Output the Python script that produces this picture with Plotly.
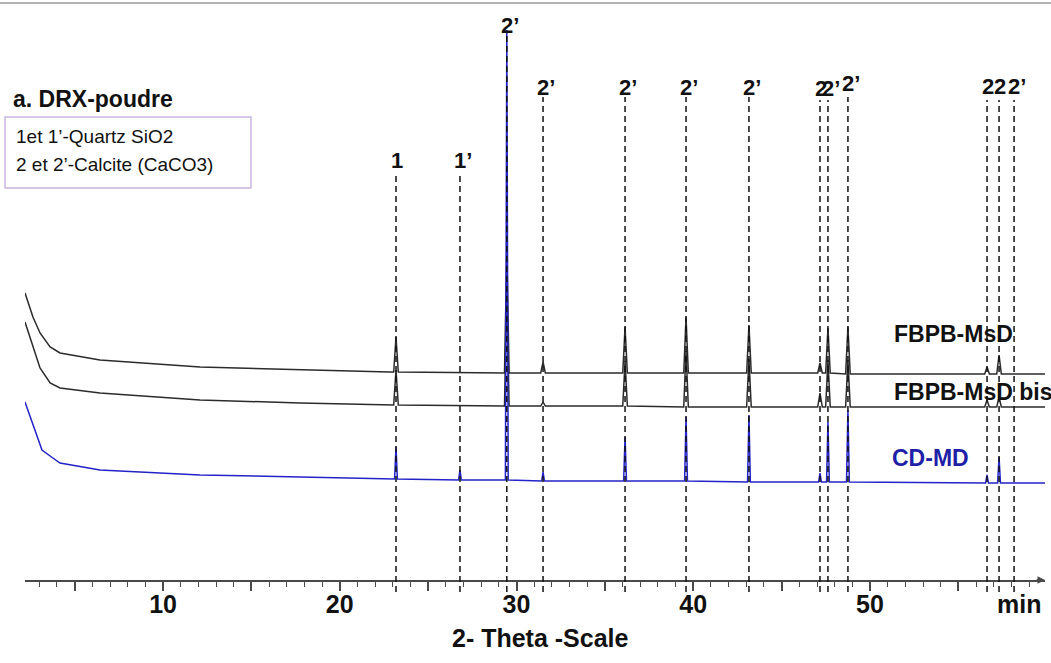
import plotly.graph_objects as go

# marked reflections (2-theta) and their labels
peak_pos = [23.18, 26.80, 29.45, 31.50, 36.14, 39.59, 43.15, 47.17, 47.62, 48.75, 56.62, 57.30, 58.15]
peak_lbl = ["1", "1’", "2’", "2’", "2’", "2’", "2’", "2", "2’", "2’", "2", "2", "2’"]

# FBPB-MsD (upper black pattern)
msd_bg_x = [2.19, 2.64, 3.04, 3.61, 4.17, 6.43, 12.09, 17.75, 22.80, 30.0, 40.0, 50.0, 59.9]
msd_bg_y = [287, 263, 247, 233, 227, 220, 213, 210, 208, 207, 207, 206, 206]
msd_base = [208, 207, 207, 207, 207, 207, 207, 207, 207, 206, 206, 206, 206]
msd_top = [243, None, 330, 218, 253, 263, 255, 217, 252, 253, 213, 225, None]

# FBPB-MsD bis (lower black pattern)
bis_bg_x = [2.19, 2.64, 3.04, 3.61, 4.17, 6.43, 12.09, 17.75, 22.80, 30.0, 40.0, 50.0, 59.9]
bis_bg_y = [258, 233, 212, 197, 192, 187, 180, 177, 175, 174, 173, 173, 173]
bis_base = [175, 174, 174, 174, 174, 173, 173, 173, 173, 173, 173, 173, 173]
bis_top = [210, None, 290, 178, 219, 229, 221, 187, 220, 220, 180, 183, None]

# CD-MD (blue pattern)
cd_bg_x = [2.19, 2.64, 3.15, 3.61, 4.17, 6.43, 12.09, 17.75, 22.80, 34.7, 46.0, 59.9]
cd_bg_y = [178, 155, 130, 124, 117, 110, 105, 103, 101, 99, 98, 97]
cd_base = [101, 100, 100, 99, 99, 99, 98, 98, 98, 98, 97, 97, 97]
cd_top = [133, 110, 550, 108, 143, 163, 165, 107, 158, 170, 105, 123, None]

x_ticks = [5, 10, 15, 20, 25, 30, 35, 40, 45, 50, 55]
x_ticktext = ["", "10", "", "20", "", "30", "", "40", "", "50", ""]

FONT = "Liberation Sans, Arial, sans-serif"
BLUE = "#2323c8"
H = 580  # plot height in px == y range


def build(bg_x, bg_y, base, top, half):
    pts = list(zip(bg_x, bg_y))
    for p, b, t in zip(peak_pos, base, top):
        if t is None:
            continue
        pts += [(p - half, b), (p, t), (p + half, b)]
    pts.sort()
    return [p[0] for p in pts], [p[1] for p in pts]


def px(x):
    return (x - 25) / 1020


def py(y):
    return (H - y) / H


fig = go.Figure()
for bx, by, ba, tp, col, half in [
    (msd_bg_x, msd_bg_y, msd_base, msd_top, "#2b2b2b", 0.13),
    (bis_bg_x, bis_bg_y, bis_base, bis_top, "#2b2b2b", 0.13),
    (cd_bg_x, cd_bg_y, cd_base, cd_top, BLUE, 0.08),
]:
    xs, ys = build(bx, by, ba, tp, half)
    fig.add_trace(go.Scatter(x=xs, y=ys, mode="lines", line=dict(color=col, width=1.5),
                             hoverinfo="skip", showlegend=False))

# label / dash placement (pixels from top of plot)
lbl_py = [160, 160, 25, 87, 87, 87, 87, 88, 88, 83, 86, 86, 86]
dash_top_py = [172, 172, 35, 97, 97, 97, 97, 100, 100, 97, 100, 100, 100]

shapes = []
annotations = []
for p, lab, ly, dy in zip(peak_pos, peak_lbl, lbl_py, dash_top_py):
    shapes.append(dict(type="line", xref="x", yref="paper", x0=p, x1=p,
                       y0=py(592), y1=py(dy), layer="above",
                       line=dict(color="#111", width=1.5, dash="6px,4px")))
    annotations.append(dict(x=p, y=H - ly, xref="x", yref="y", text=lab, showarrow=False,
                            xanchor="center", yanchor="middle",
                            xshift=3 if "’" in lab else 1,
                            font=dict(family=FONT, size=22, color="#111", weight="bold")))

# top grey border line
shapes.append(dict(type="line", xref="paper", yref="paper", x0=-0.03, x1=1.01,
                   y0=py(3), y1=py(3), line=dict(color="#b4b4b4", width=2)))
# legend box
shapes.append(dict(type="rect", xref="paper", yref="paper",
                   x0=px(5), x1=px(251), y0=py(188), y1=py(117),
                   line=dict(color="#c9b6de", width=1.5)))


def note(x, y, text, size, color="#111", weight="normal", xanchor="left"):
    return dict(x=x, y=y, xref="paper", yref="paper", xanchor=xanchor, yanchor="middle",
                text=text, showarrow=False,
                font=dict(family=FONT, size=size, color=color, weight=weight))


annotations += [
    note(px(11), py(99), "a. DRX-poudre", 23, weight="bold"),
    note(px(14), py(137), "1et 1’-Quartz SiO2", 19),
    note(px(14), py(165), "2 et 2’-Calcite (CaCO3)", 19),
    note(px(892), py(334), "FBPB-MsD", 23, weight="bold"),
    note(px(892), py(392), "FBPB-MsD bis", 23, weight="bold"),
    note(px(890), py(458), "CD-MD", 23, color="#1f1fa8", weight="bold"),
    note(px(1019), py(604), "min", 25, weight="bold", xanchor="center"),
    note(px(540), py(638), "2- Theta -Scale", 25, weight="bold", xanchor="center"),
    dict(x=59.9, y=0, xref="x", yref="y", ax=-10, ay=0, text="", showarrow=True,
         arrowhead=2, arrowsize=1, arrowwidth=1.5, arrowcolor="#4a4a4a"),
]

fig.update_layout(
    width=1051, height=663,
    margin=dict(l=25, r=6, t=0, b=83, autoexpand=False),
    paper_bgcolor="white", plot_bgcolor="white",
    showlegend=False,
    shapes=shapes, annotations=annotations,
    xaxis=dict(range=[2.19, 59.9], showgrid=False, zeroline=False, automargin=False,
               showline=True, linecolor="#4a4a4a", linewidth=2,
               ticks="outside", tickvals=x_ticks, ticktext=x_ticktext,
               ticklen=9, tickwidth=1.5, tickcolor="#4a4a4a", ticklabelstandoff=-8,
               minor=dict(tickmode="linear", tick0=0, dtick=1, ticks="outside",
                          ticklen=5, tickwidth=1, tickcolor="#4a4a4a"),
               tickfont=dict(family=FONT, size=25, color="#111", weight="bold")),
    yaxis=dict(range=[0, H], visible=False, fixedrange=True, automargin=False),
)

fig.write_html("out.html", config={"displayModeBar": False},
               post_script="document.body.style.margin='0';")
